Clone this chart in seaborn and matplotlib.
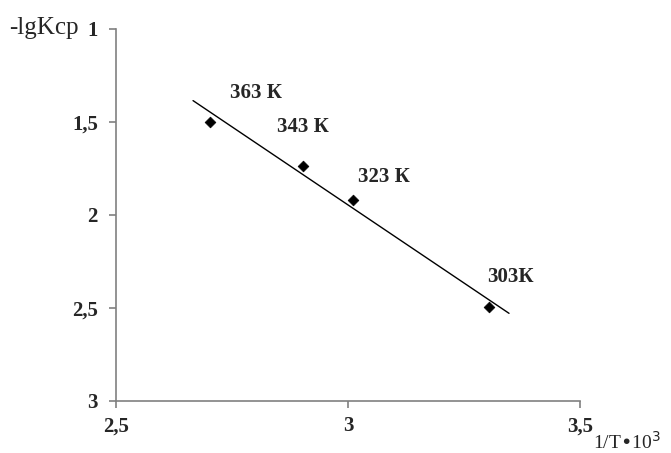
import numpy as np
import pandas as pd
import matplotlib
matplotlib.use("Agg")
import matplotlib.pyplot as plt
from matplotlib.ticker import FuncFormatter
import seaborn as sns

# Measured points: reciprocal temperature (1/T * 10^3) vs -lgKср
temps = ["363 К", "343 К", "323 К", "303К"]
inv_t = [2.703, 2.903, 3.011, 3.304]
neg_lgk = [1.50, 1.737, 1.919, 2.495]

x_ticks = [2.5, 3.0, 3.5]
y_ticks = [1.0, 1.5, 2.0, 2.5, 3.0]

df = pd.DataFrame({"inv_t": inv_t, "neg_lgk": neg_lgk, "temp": temps})

sns.set_theme(style="white")
plt.rcParams["font.family"] = ["Liberation Serif", "DejaVu Serif"]

fig = plt.figure(figsize=(6.71, 4.53), dpi=100)
ax = fig.add_axes([0.1729, 0.1148, 0.6915, 0.8212])

# least-squares trend line, extended a little past the data
slope, intercept = np.polyfit(df["inv_t"], df["neg_lgk"], 1)
fit_x = np.array([2.666, 3.347])
fit = pd.DataFrame({"x": fit_x, "y": slope * fit_x + intercept})
sns.lineplot(data=fit, x="x", y="y", ax=ax, color="black", linewidth=1.0)

sns.scatterplot(data=df, x="inv_t", y="neg_lgk", ax=ax, marker="D",
                color="black", s=30, edgecolor="black", linewidth=0.5, zorder=3)

# temperature labels, offset (in pixels) from each point
offsets = [(20, 29), (-26, 39), (5, 23), (-2, 30)]
for (_, row), (dx, dy) in zip(df.iterrows(), offsets):
    ax.annotate(row["temp"], (row["inv_t"], row["neg_lgk"]),
                xytext=(dx * 0.72, dy * 0.72), textcoords="offset points",
                ha="left", va="center", fontsize=15, fontweight="bold")

ax.set_xlim(2.5, 3.5)
ax.set_ylim(3.0, 1.0)
ax.set_xticks(x_ticks)
ax.set_yticks(y_ticks)
comma = FuncFormatter(lambda v, _: f"{v:g}".replace(".", ","))
ax.xaxis.set_major_formatter(comma)
ax.yaxis.set_major_formatter(comma)
ax.tick_params(axis="both", which="major", direction="out", length=5,
               width=1.2, color="#808080", labelsize=15,
               bottom=True, left=True)
ax.tick_params(axis="y", pad=8)
ax.tick_params(axis="x", pad=6)
for lab in ax.get_xticklabels() + ax.get_yticklabels():
    lab.set_fontweight("bold")

for side in ["top", "right"]:
    ax.spines[side].set_visible(False)
for side in ["left", "bottom"]:
    ax.spines[side].set_color("#808080")
    ax.spines[side].set_linewidth(1.2)

ax.set_xlabel("")
ax.set_ylabel("")
fig.text(0.014, 0.938, "-lgKср", fontsize=18, ha="left", va="center")
fig.text(0.884, 0.024, "1/T•10$^3$", fontsize=14, ha="left", va="center")

fig.savefig("out.png", dpi=100)
